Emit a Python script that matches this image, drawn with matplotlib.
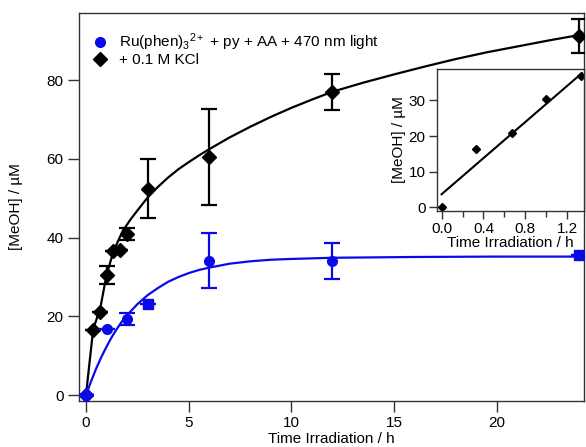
import matplotlib
matplotlib.use('Agg')
import matplotlib.pyplot as plt
from matplotlib.lines import Line2D
import numpy as np

plt.rcParams['font.family'] = ['Liberation Sans', 'DejaVu Sans']
plt.rcParams['mathtext.fontset'] = 'custom'
plt.rcParams['mathtext.rm'] = 'Liberation Sans'
plt.rcParams['mathtext.it'] = 'Liberation Sans'

# black series: + 0.1 M KCl
kcl_t = [0, 0.33, 0.67, 1.0, 1.33, 1.67, 2.0, 3.0, 6.0, 12.0, 24.0]
kcl_y = [0, 16.5, 21.0, 30.5, 36.7, 37.0, 41.0, 52.5, 60.5, 77.0, 91.2]
kcl_err = [0, 0, 0, 2.3, 0, 0, 1.5, 7.5, 12.3, 4.5, 4.3]

# blue series: Ru(phen)3 2+ + py + AA + 470 nm light
ru_t = [0, 1.0, 2.0, 3.0, 6.0, 12.0, 24.0]
ru_y = [0, 16.9, 19.3, 23.2, 34.2, 34.0, 35.5]
ru_err = [0, 0, 1.5, 0, 7.1, 4.6, 0]
ru_markers = ['D', 'o', 'o', 's', 'o', 'o', 's']

# fitted curves
kcl_fit_t = [0, 0.35, 0.7, 1.0, 1.33, 1.6, 1.8, 2.15, 2.5, 3, 3.5, 4, 4.5, 5, 5.5, 6, 7, 8,
             9, 10, 11, 12, 13.5, 15, 16.5, 18, 19.5, 21, 22.5, 24]
kcl_fit_y = [0, 16.7, 22.2, 30.5, 36.4, 39.6, 41.8, 44.5, 46.9, 50.2, 52.9, 55.3, 57.4,
             59.2, 60.9, 62.5, 65.5, 68.2, 70.7, 73.0, 75.1, 77.1, 79.4, 81.5, 83.5,
             85.4, 87.1, 88.6, 90.1, 91.5]
ru_fit_t = [0, 0.25, 0.5, 0.75, 1, 1.25, 1.5, 1.75, 2, 2.5, 3, 3.5, 4, 4.5, 5, 5.5, 6,
            7, 8, 9, 10, 12, 16, 20, 24]
ru_fit_y = [0, 3.5, 6.8, 9.7, 12.3, 14.7, 16.8, 18.7, 20.3, 23.1, 25.4, 27.2, 28.8,
            30.0, 31.0, 31.8, 32.4, 33.4, 34.0, 34.4, 34.6, 34.9, 35.1, 35.2, 35.2]

# inset: early KCl points and linear fit
ins_t = [0, 0.33, 0.67, 1.0, 1.33]
ins_y = [0, 16.5, 21.0, 30.5, 36.7]
ins_fit_t = [0, 1.34]
ins_fit_y = [3.7, 37.6]

blue = '#0a0ae6'
spine_col = '#333333'
fs = 11

fig = plt.figure(figsize=(5.86, 4.47), dpi=100)
ax = fig.add_axes([0.1348, 0.1029, 0.862, 0.868])

ax.plot(kcl_fit_t, kcl_fit_y, color='black', lw=1.6, zorder=2)
ax.errorbar(kcl_t, kcl_y, yerr=kcl_err, fmt='D', color='black', ms=7.5,
            capsize=6, elinewidth=1.6, capthick=1.6, zorder=3)

ax.plot(ru_fit_t, ru_fit_y, color=blue, lw=1.6, zorder=4)
ax.errorbar(ru_t, ru_y, yerr=ru_err, fmt='none', ecolor=blue,
            capsize=6, elinewidth=1.6, capthick=1.6, zorder=5)
for t, y, m in zip(ru_t, ru_y, ru_markers):
    ax.plot(t, y, marker=m, color=blue, ms=7 if m != 's' else 6.5, ls='none', zorder=6)

ax.set_xlim(-0.34, 24.25)
ax.set_ylim(-1.5, 97.1)
ax.set_xticks([0, 5, 10, 15, 20])
ax.set_yticks([0, 20, 40, 60, 80])
ax.tick_params(direction='out', length=8, width=1, labelsize=fs, color=spine_col, pad=3)
for s in ax.spines.values():
    s.set_color(spine_col)
    s.set_linewidth(1)
ax.set_xlabel('Time Irradiation / h', fontsize=fs, labelpad=1)
ax.set_ylabel('[MeOH] / µM', fontsize=fs, labelpad=17)

handles = [Line2D([], [], marker='o', color=blue, ls='none', ms=7),
           Line2D([], [], marker='D', color='black', ls='none', ms=7)]
labels = [r'Ru(phen)$_3$$^{2+}$ + py + AA + 470 nm light', '+ 0.1 M KCl']
ax.legend(handles, labels, loc='upper left', bbox_to_anchor=(0.0, 0.98),
          frameon=False, fontsize=fs, handletextpad=0.5, labelspacing=0.0,
          handlelength=1.4, borderaxespad=0.3)

# inset
ins = fig.add_axes([0.745, 0.5287, 0.2514, 0.317])
ins.plot(ins_fit_t, ins_fit_y, color='black', lw=1.5)
ins.plot(ins_t, ins_y, 'D', color='black', ms=4.5)
ins.set_xlim(-0.048, 1.36)
ins.set_ylim(-0.9, 38.8)
ins.set_xticks([0.0, 0.4, 0.8, 1.2])
ins.set_xticks([0.2, 0.6, 1.0], minor=True)
ins.set_xticklabels(['0.0', '0.4', '0.8', '1.2'])
ins.set_yticks([0, 10, 20, 30])
ins.tick_params(direction='out', length=6, width=1, labelsize=fs, color=spine_col, pad=2)
ins.tick_params(which='minor', direction='out', length=4, width=1, color=spine_col)
for s in ins.spines.values():
    s.set_color(spine_col)
    s.set_linewidth(1)
ins.set_xlabel('Time Irradiation / h', fontsize=fs, labelpad=0)
ins.set_ylabel('[MeOH] / µM', fontsize=fs, labelpad=2)

fig.savefig('out.png', dpi=100)
